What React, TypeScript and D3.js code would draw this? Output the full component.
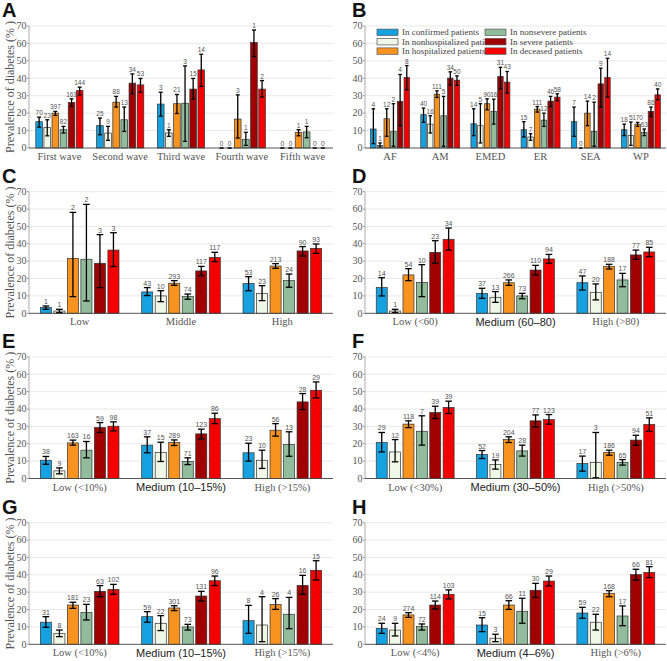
import React from "react";
import * as d3 from "d3";

const SERIES = [
  "In confirmed patients",
  "In nonhospitalized patients",
  "In hospitalized patients",
  "In nonsevere patients",
  "In severe patients",
  "In deceased patients",
];
const COLORS = ["#16A2E0", "#EFF8E6", "#F7931E", "#91BD9C", "#A10000", "#F50000"];
const TICKS = [0, 10, 20, 30, 40, 50, 60, 70];

// Panel A
const A_CATS = ["First wave", "Second wave", "Third wave", "Fourth wave", "Fifth wave"];
const A_VAL = [
  [15.1, 12.8, 25.2, 0, 0],
  [11.8, 8.6, 8.6, 0, 0],
  [20.0, 26.3, 25.4, 16.6, 9.0],
  [10.5, 16.2, 25.7, 4.8, 9.2],
  [26.1, 37.2, 33.8, 60.5, 0],
  [33.0, 36.2, 44.8, 33.8, 0],
];
const A_LO = [
  [12.0, 7.6, 18.3, 0, 0],
  [7.0, 4.4, 6.7, 0, 0],
  [18.7, 23.5, 19.8, 5.7, 7.0],
  [8.6, 9.5, 3.8, 1.5, 5.9],
  [23.8, 31.1, 28.0, 52.5, 0],
  [30.5, 32.0, 35.3, 29.2, 0],
];
const A_HI = [
  [17.7, 17.2, 32.0, 0, 0],
  [16.2, 12.4, 10.5, 0, 0],
  [21.0, 29.6, 30.7, 30.5, 10.5],
  [12.4, 23.5, 47.1, 9.0, 12.4],
  [28.2, 42.5, 39.9, 67.7, 0],
  [34.9, 39.9, 53.8, 38.7, 0],
];
const A_N = [
  [70, 25, 3, 0, 0],
  [23, 9, 1, 0, 0],
  [397, 88, 21, 3, 1],
  [82, 13, 3, 1, 1],
  [161, 34, 15, 1, 0],
  [144, 53, 14, 2, 0],
];

// Panel B
const B_CATS = ["AF", "AM", "EMED", "ER", "SEA", "WP"];
const B_VAL = [
  [10.9, 19.1, 13.9, 10.5, 15.1, 10.5],
  [1.5, 13.7, 12.8, 6.3, 0, 7.1],
  [16.8, 30.9, 25.4, 22.3, 20.0, 13.7],
  [9.5, 18.5, 21.0, 16.0, 9.5, 9.0],
  [26.7, 40.1, 41.0, 26.9, 36.8, 21.0],
  [40.4, 38.9, 37.8, 29.2, 40.4, 30.5],
];
const B_LO = [
  [2.5, 14.7, 7.1, 6.3, 6.7, 7.1],
  [0.6, 8.6, 2.9, 4.4, 0, 1.5],
  [6.7, 29.0, 21.9, 20.6, 12.8, 12.4],
  [1.0, 1.0, 13.7, 12.4, 1.0, 7.1],
  [12.8, 36.2, 33.9, 23.8, 23.5, 18.1],
  [33.4, 36.0, 31.5, 27.1, 29.2, 27.7],
];
const B_HI = [
  [22.5, 22.9, 22.5, 15.1, 23.5, 13.7],
  [2.9, 18.5, 25.4, 8.2, 0, 14.9],
  [22.5, 32.8, 28.2, 23.8, 26.9, 14.7],
  [25.4, 29.6, 28.0, 20.0, 26.3, 10.9],
  [42.2, 43.7, 46.3, 29.6, 45.8, 23.5],
  [47.3, 41.4, 43.9, 31.1, 51.5, 33.9],
];
const B_N = [
  [4, 40, 14, 15, 7, 18],
  [1, 16, 5, 7, 0, 5],
  [12, 111, 90, 111, 14, 170],
  [2, 5, 16, 12, 2, 63],
  [4, 34, 31, 46, 9, 86],
  [8, 50, 43, 58, 14, 40],
];

// Panel C
const C_CATS = ["Low", "Middle", "High"];
const C_VAL = [
  [3.3, 12.3, 17.1],
  [1.3, 10.0, 11.5],
  [31.6, 17.3, 27.2],
  [31.1, 9.6, 18.8],
  [28.8, 24.4, 35.9],
  [36.4, 32.2, 37.4],
];
const C_LO = [
  [2.3, 10.2, 13.0],
  [0.4, 6.7, 7.3],
  [9.6, 16.1, 25.9],
  [7.1, 8.1, 15.0],
  [14.8, 21.7, 33.0],
  [26.9, 29.7, 34.5],
];
const C_HI = [
  [4.2, 14.8, 21.1],
  [2.3, 13.0, 15.9],
  [58.1, 18.8, 28.6],
  [62.7, 11.1, 22.6],
  [45.3, 27.0, 38.4],
  [46.4, 35.1, 39.9],
];
const C_N = [
  [1, 43, 53],
  [1, 10, 23],
  [2, 293, 213],
  [2, 74, 24],
  [3, 117, 90],
  [3, 117, 93],
];

// Panel D
const D_CATS = ["Low (<60)", "Medium (60\u201380)", "High (>80)"];
const D_VAL = [
  [14.8, 11.5, 17.6],
  [1.3, 9.2, 12.1],
  [22.1, 17.6, 26.9],
  [17.8, 10.0, 19.2],
  [35.1, 24.9, 33.6],
  [42.6, 31.3, 35.3],
];
const D_LO = [
  [10.0, 8.6, 13.4],
  [0.4, 6.3, 7.7],
  [18.8, 16.1, 25.5],
  [9.6, 8.4, 15.3],
  [28.8, 22.1, 31.1],
  [36.4, 28.8, 32.6],
];
const D_HI = [
  [20.5, 14.4, 21.5],
  [2.3, 12.5, 16.9],
  [25.7, 19.2, 28.2],
  [28.0, 11.5, 23.0],
  [41.8, 27.6, 36.4],
  [49.1, 33.9, 38.0],
];
const D_N = [
  [14, 37, 47],
  [1, 13, 20],
  [54, 266, 188],
  [10, 73, 17],
  [23, 110, 77],
  [34, 94, 85],
];

// Panel E
const E_CATS = ["Low (<10%)", "Medium (10\u201315%)", "High (>15%)"];
const E_VAL = [
  [10.5, 19.2, 14.8],
  [4.4, 15.0, 10.5],
  [20.5, 20.7, 27.8],
  [16.3, 9.8, 19.6],
  [29.3, 25.7, 44.1],
  [30.1, 34.5, 50.8],
];
const E_LO = [
  [8.2, 14.8, 10.0],
  [2.7, 9.8, 5.8],
  [19.2, 19.0, 24.4],
  [11.9, 8.0, 12.8],
  [26.5, 22.8, 39.7],
  [27.4, 31.6, 46.4],
];
const E_HI = [
  [12.7, 24.0, 20.3],
  [6.1, 20.9, 16.3],
  [22.1, 22.2, 31.6],
  [21.3, 11.9, 26.9],
  [32.2, 28.4, 48.9],
  [32.6, 37.6, 55.6],
];
const E_N = [
  [38, 37, 23],
  [9, 15, 10],
  [163, 289, 56],
  [16, 71, 13],
  [59, 123, 28],
  [98, 86, 29],
];

// Panel F
const F_CATS = ["Low (<30%)", "Medium (30\u201350%)", "High (>50%)"];
const F_VAL = [
  [20.7, 13.8, 8.6],
  [15.3, 8.1, 9.2],
  [31.3, 22.4, 15.0],
  [27.2, 15.9, 9.2],
  [38.0, 33.2, 22.1],
  [40.9, 33.9, 31.1],
];
const F_LO = [
  [15.3, 11.5, 4.2],
  [9.6, 5.4, 0.4],
  [29.3, 20.7, 13.4],
  [19.2, 12.9, 7.7],
  [34.5, 29.7, 19.2],
  [37.4, 31.3, 27.2],
];
const F_HI = [
  [26.5, 16.1, 12.9],
  [22.4, 10.7, 26.5],
  [33.2, 24.0, 16.3],
  [36.1, 19.2, 10.9],
  [41.6, 36.6, 24.9],
  [44.5, 36.8, 34.9],
];
const F_N = [
  [29, 52, 17],
  [12, 19, 3],
  [118, 204, 186],
  [7, 28, 65],
  [39, 77, 94],
  [39, 123, 51],
];

// Panel G
const G_CATS = ["Low (<10%)", "Medium (10\u201315%)", "High (>15%)"];
const G_VAL = [
  [12.7, 15.9, 13.6],
  [6.3, 12.1, 11.1],
  [22.6, 20.9, 23.0],
  [18.4, 10.0, 17.3],
  [30.5, 27.8, 33.9],
  [31.6, 36.6, 42.6],
];
const G_LO = [
  [9.8, 12.7, 6.3],
  [4.4, 7.9, 1.5],
  [20.7, 19.4, 20.1],
  [14.0, 8.2, 9.0],
  [27.4, 24.9, 28.8],
  [28.8, 33.8, 37.0],
];
const G_HI = [
  [15.9, 18.8, 22.4],
  [8.2, 16.5, 27.4],
  [24.2, 22.2, 26.3],
  [23.0, 11.5, 27.0],
  [33.8, 30.5, 39.7],
  [34.5, 39.3, 48.1],
];
const G_N = [
  [31, 59, 8],
  [8, 22, 4],
  [181, 301, 26],
  [23, 73, 4],
  [63, 131, 16],
  [102, 96, 15],
];

// Panel H
const H_CATS = ["Low (<4%)", "Medium (4\u20136%)", "High (>6%)"];
const H_VAL = [
  [9.2, 11.1, 18.0],
  [8.2, 3.5, 12.7],
  [16.9, 22.6, 29.2],
  [10.2, 19.0, 16.3],
  [22.6, 31.1, 40.1],
  [28.8, 36.4, 41.4],
];
const H_LO = [
  [6.3, 7.3, 15.0],
  [4.8, 1.5, 8.2],
  [15.5, 20.1, 27.4],
  [8.2, 12.1, 10.7],
  [20.3, 27.0, 37.0],
  [26.1, 33.6, 38.4],
];
const H_HI = [
  [12.1, 15.3, 21.3],
  [12.1, 5.8, 17.3],
  [18.2, 25.1, 30.9],
  [11.7, 26.5, 22.1],
  [24.9, 35.1, 43.2],
  [31.3, 39.3, 44.7],
];
const H_N = [
  [24, 15, 59],
  [9, 3, 22],
  [274, 66, 168],
  [72, 11, 17],
  [114, 30, 66],
  [103, 29, 81],
];

const SERIF = "'Liberation Serif', 'Times New Roman', serif";
const SANS = "'Liberation Sans', Arial, sans-serif";

type PanelCfg = {
  letter: string;
  cats: string[];
  val: number[][];
  lo: number[][];
  hi: number[][];
  n: number[][];
  x0: number;
  x1: number;
  yTop: number;
  yBot: number;
  ylabel: boolean;
  nFont: number;
  legend?: boolean;
};

const LEFT = { x0: 29, x1: 333 };
const RIGHT = { x0: 365, x1: 666 };
const ROWS = [
  { yTop: 26, yBot: 148 },
  { yTop: 191.7, yBot: 313.3 },
  { yTop: 356.9, yBot: 478.5 },
  { yTop: 522.7, yBot: 644.3 },
];

const PANELS: PanelCfg[] = [
  { letter: "A", cats: A_CATS, val: A_VAL, lo: A_LO, hi: A_HI, n: A_N, ...LEFT, ...ROWS[0], ylabel: true, nFont: 6.5 },
  { letter: "B", cats: B_CATS, val: B_VAL, lo: B_LO, hi: B_HI, n: B_N, ...RIGHT, ...ROWS[0], ylabel: false, nFont: 6.5, legend: true },
  { letter: "C", cats: C_CATS, val: C_VAL, lo: C_LO, hi: C_HI, n: C_N, ...LEFT, ...ROWS[1], ylabel: true, nFont: 7 },
  { letter: "D", cats: D_CATS, val: D_VAL, lo: D_LO, hi: D_HI, n: D_N, ...RIGHT, ...ROWS[1], ylabel: false, nFont: 7 },
  { letter: "E", cats: E_CATS, val: E_VAL, lo: E_LO, hi: E_HI, n: E_N, ...LEFT, ...ROWS[2], ylabel: true, nFont: 7 },
  { letter: "F", cats: F_CATS, val: F_VAL, lo: F_LO, hi: F_HI, n: F_N, ...RIGHT, ...ROWS[2], ylabel: false, nFont: 7 },
  { letter: "G", cats: G_CATS, val: G_VAL, lo: G_LO, hi: G_HI, n: G_N, ...LEFT, ...ROWS[3], ylabel: true, nFont: 7 },
  { letter: "H", cats: H_CATS, val: H_VAL, lo: H_LO, hi: H_HI, n: H_N, ...RIGHT, ...ROWS[3], ylabel: false, nFont: 7 },
];

function Panel({ p }: { p: PanelCfg }) {
  const y = d3.scaleLinear().domain([0, 70]).range([p.yBot, p.yTop]);
  const xg = d3.scaleBand<string>().domain(p.cats).range([p.x0, p.x1]).paddingInner(0.2).paddingOuter(0.1);
  const xs = d3
    .scaleBand<number>()
    .domain(d3.range(SERIES.length))
    .range([0, xg.bandwidth()])
    .paddingInner(0.18)
    .paddingOuter(0.09);
  const bw = xs.bandwidth();
  const cap = Math.max(3.5, bw * 0.6);
  const isRight = p.x0 > 200;
  const letterX = isRight ? p.x0 - 13 : 2;
  return (
    <g>
      <text x={letterX} y={p.yTop - 8.7} fontFamily={SANS} fontWeight="bold" fontSize={20} fill="#111">
        {p.letter}
      </text>
      {TICKS.map((t) => (
        <g key={t}>
          {t > 0 && <line x1={p.x0} x2={p.x1} y1={y(t)} y2={y(t)} stroke="#e3e3e3" strokeWidth={0.8} />}
          <line x1={p.x0 - 2} x2={p.x0} y1={y(t)} y2={y(t)} stroke="#888" strokeWidth={0.8} />
          <text x={p.x0 - 2.5} y={y(t) + 3.3} textAnchor="end" fontFamily={SERIF} fontSize={10} fill="#555">
            {t}
          </text>
        </g>
      ))}
      <line x1={p.x0} x2={p.x0} y1={p.yTop} y2={p.yBot} stroke="#999" strokeWidth={0.8} />
      {p.ylabel && (
        <text
          transform={`translate(13.5,${(p.yTop + p.yBot) / 2}) rotate(-90)`}
          textAnchor="middle"
          fontFamily={SERIF}
          fontSize={12}
          fill="#555"
        >
          Prevalence of diabetes (% )
        </text>
      )}
      {p.cats.map((c, gi) => {
        const gx = xg(c)!;
        return (
          <g key={c}>
            {SERIES.map((s, si) => {
              const v = p.val[si][gi];
              const bx = gx + xs(si)!;
              return (
                <rect
                  key={s}
                  x={bx}
                  y={y(v)}
                  width={bw}
                  height={y(0) - y(v)}
                  fill={COLORS[si]}
                  stroke="#333"
                  strokeWidth={0.7}
                />
              );
            })}
            {SERIES.map((s, si) => {
              const cx = gx + xs(si)! + bw / 2;
              const lo = p.lo[si][gi];
              const hi = p.hi[si][gi];
              return (
                <g key={s} stroke="#000" strokeWidth={1.3}>
                  <line x1={cx} x2={cx} y1={y(lo)} y2={y(hi)} />
                  <line x1={cx - cap / 2} x2={cx + cap / 2} y1={y(lo)} y2={y(lo)} />
                  <line x1={cx - cap / 2} x2={cx + cap / 2} y1={y(hi)} y2={y(hi)} />
                </g>
              );
            })}
            {SERIES.map((s, si) => {
              const cx = gx + xs(si)! + bw / 2;
              const hi = Math.max(p.hi[si][gi], p.val[si][gi]);
              return (
                <text
                  key={s}
                  x={cx}
                  y={y(hi) - 2}
                  textAnchor="middle"
                  fontFamily={SANS}
                  fontSize={p.nFont}
                  fill="#555"
                >
                  {p.n[si][gi]}
                </text>
              );
            })}
            {c.startsWith("Medium") ? (
              <text
                x={gx + xg.bandwidth() / 2}
                y={p.yBot + 12.5}
                textAnchor="middle"
                fontFamily={SANS}
                fontSize={11}
                fill="#222"
              >
                {c}
              </text>
            ) : (
              <text
                x={gx + xg.bandwidth() / 2}
                y={p.yBot + 12}
                textAnchor="middle"
                fontFamily={SERIF}
                fontSize={10.5}
                fill="#555"
              >
                {c}
              </text>
            )}
          </g>
        );
      })}
      <line x1={p.x0} x2={p.x1} y1={p.yBot} y2={p.yBot} stroke="#444" strokeWidth={0.9} />
      {p.legend && (
        <g>
          {SERIES.map((s, si) => {
            const col = si < 3 ? 0 : 1;
            const row = si % 3;
            const lx = col === 0 ? 377 : 485;
            const ly = 32.3 + row * 9.4;
            return (
              <g key={s}>
                <rect x={lx} y={ly - 3.2} width={21} height={6.4} fill={COLORS[si]} stroke="#555" strokeWidth={0.7} />
                <text x={lx + 25} y={ly + 3} fontFamily={SERIF} fontSize={9} fill="#444">
                  {s}
                </text>
              </g>
            );
          })}
        </g>
      )}
    </g>
  );
}

export default function App() {
  return (
    <svg
      width={667}
      height={661}
      style={{ position: "absolute", left: 0, top: 0, background: "#fff" }}
    >
      <rect x={0} y={0} width={667} height={661} fill="#fff" />
      {PANELS.map((p) => (
        <Panel key={p.letter} p={p} />
      ))}
    </svg>
  );
}
